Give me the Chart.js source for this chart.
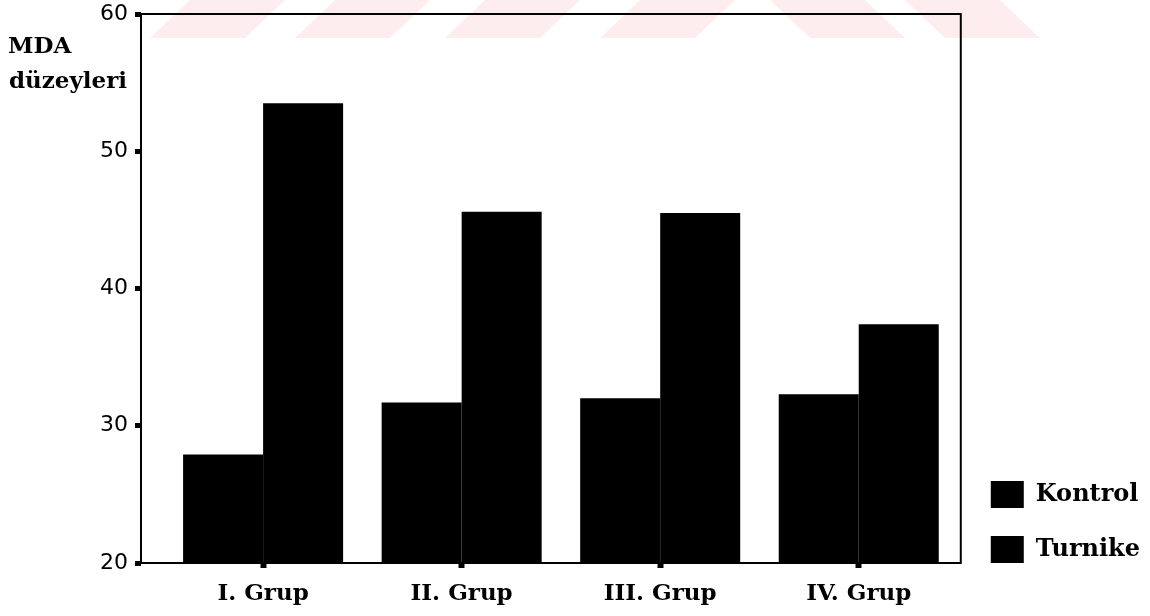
<!DOCTYPE html>
<html><head><meta charset="utf-8">
<script src="https://cdn.jsdelivr.net/npm/chart.js@4.4.0/dist/chart.umd.min.js"></script>
<style>html,body{margin:0;padding:0;background:#fff}#wrap{width:1150px;height:616px}</style>
</head><body><div id="wrap"><canvas id="c" width="1150" height="616"></canvas></div>
<script>
const categories = ['I. Grup', 'II. Grup', 'III. Grup', 'IV. Grup'];
const seriesNames = ['Kontrol', 'Turnike'];
const kontrol = [27.9, 31.7, 32.0, 32.3];
const turnike = [53.5, 45.6, 45.5, 37.4];
const yTicks = [20, 30, 40, 50, 60];
const yTitle = ['MDA', 'düzeyleri'];

const serifBold = { family: '"DejaVu Serif", serif', size: 23, weight: 'bold' };

const watermark = {
  id: 'watermark',
  beforeDraw(chart) {
    const ctx = chart.ctx;
    ctx.save();
    ctx.fillStyle = 'rgba(240,90,110,0.11)';
    const h = 38;
    [150, 295, 445, 600].forEach(x0 => {
      ctx.beginPath();
      ctx.moveTo(x0, h); ctx.lineTo(x0 + 95, h); ctx.lineTo(x0 + 135, 0); ctx.lineTo(x0 + 40, 0);
      ctx.closePath(); ctx.fill();
    });
    [770, 905].forEach(x0 => {
      ctx.beginPath();
      ctx.moveTo(x0 + 40, h); ctx.lineTo(x0 + 135, h); ctx.lineTo(x0 + 95, 0); ctx.lineTo(x0, 0);
      ctx.closePath(); ctx.fill();
    });
    ctx.restore();
  }
};

const legendPlacer = {
  id: 'legendPlacer',
  afterLayout(chart) {
    if (chart.legend) {
      chart.legend.bottom = chart.chartArea.bottom + 28;
    }
  }
};

const frameAndTitle = {
  id: 'frameAndTitle',
  afterDatasetsDraw(chart) {
    const { ctx, chartArea: a } = chart;
    ctx.save();
    ctx.strokeStyle = '#000';
    ctx.lineWidth = 2;
    ctx.strokeRect(a.left, a.top, a.right - a.left, a.bottom - a.top);
    ctx.fillStyle = '#000';
    ctx.font = 'bold 23px "DejaVu Serif", serif';
    ctx.textBaseline = 'alphabetic';
    ctx.textAlign = 'left';
    ctx.fillText(yTitle[0], 8, 53);
    ctx.fillText(yTitle[1], 9, 88);
    ctx.restore();
  }
};

new Chart(document.getElementById('c'), {
  type: 'bar',
  data: {
    datasets: [
      { label: seriesNames[0], data: kontrol.map((v, i) => ({ x: i, y: v })), backgroundColor: '#000', borderWidth: 0 },
      { label: seriesNames[1], data: turnike.map((v, i) => ({ x: i, y: v })), backgroundColor: '#000', borderWidth: 0 }
    ]
  },
  options: {
    responsive: false,
    animation: false,
    devicePixelRatio: 1,
    datasets: { bar: { barPercentage: 1, categoryPercentage: 0.806 } },
    layout: { padding: { top: 14, left: 0, right: 0, bottom: 0 } },
    scales: {
      x: {
        type: 'linear',
        offset: false,
        min: -0.615, max: 3.514,
        afterBuildTicks: s => { s.ticks = categories.map((c, i) => ({ value: i })); },
        afterFit: s => { s.height = 53; },
        grid: { offset: false, drawOnChartArea: false, drawTicks: true, tickLength: 5, tickWidth: 6, color: '#000' },
        border: { display: false },
        ticks: {
          autoSkip: false, maxRotation: 0, padding: 12, color: '#000', font: serifBold,
          callback: v => categories[Math.round(v)] || ''
        }
      },
      y: {
        type: 'linear',
        min: 20, max: 60,
        afterBuildTicks: s => { s.ticks = yTicks.map(v => ({ value: v })); },
        afterFit: s => { s.width = 141; s.paddingTop = 0; s.paddingBottom = 0; },
        grid: { drawOnChartArea: false, drawTicks: true, tickLength: 6, tickWidth: 5, color: '#000' },
        border: { display: false },
        ticks: { padding: 7, color: '#000', font: { family: '"DejaVu Sans", sans-serif', size: 22 }, callback: v => String(v) }
      },
      y2: {
        axis: 'y', position: 'right', display: true,
        grid: { display: false }, ticks: { display: false }, border: { display: false },
        afterFit: s => { s.width = 2; s.paddingTop = 0; s.paddingBottom = 0; }
      }
    },
    plugins: {
      legend: {
        position: 'right', align: 'end', maxWidth: 188,
        labels: { boxWidth: 33, boxHeight: 27, padding: 28, color: '#000', font: { family: '"DejaVu Serif", serif', size: 24, weight: 'bold' } }
      },
      tooltip: { enabled: false },
      title: { display: false }
    }
  },
  plugins: [watermark, legendPlacer, frameAndTitle]
});
</script>
</body></html>
